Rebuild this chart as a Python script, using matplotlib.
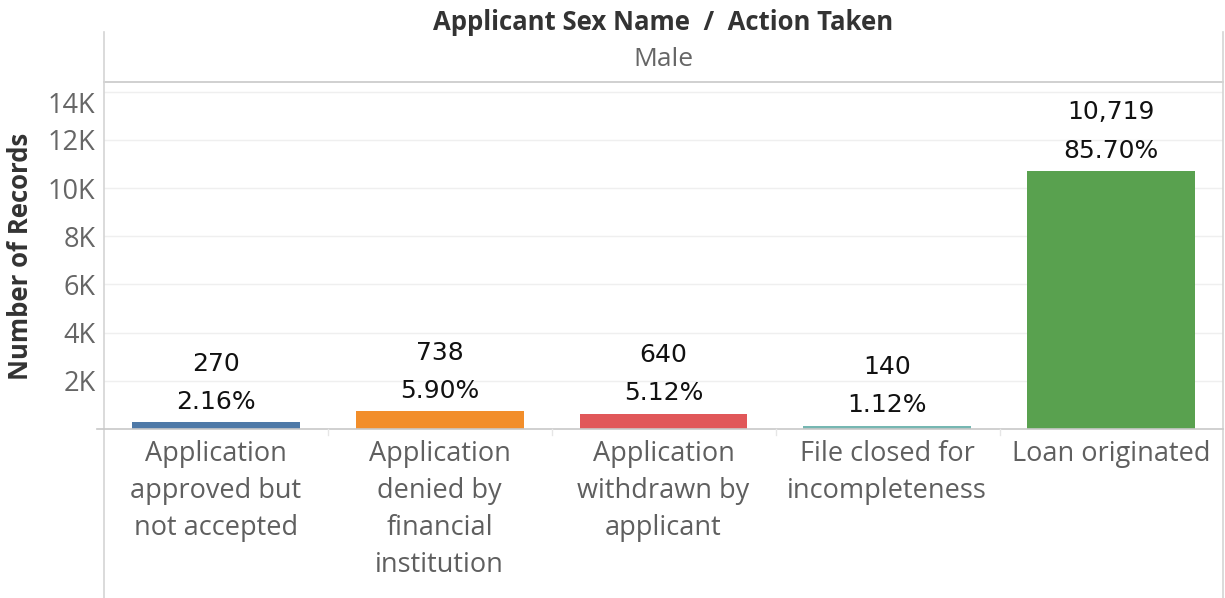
import matplotlib
matplotlib.use("Agg")
import matplotlib.pyplot as plt
from matplotlib.lines import Line2D

categories = [
    "Application\napproved but\nnot accepted",
    "Application\ndenied by\nfinancial\ninstitution",
    "Application\nwithdrawn by\napplicant",
    "File closed for\nincompleteness",
    "Loan originated",
]
counts = [270, 738, 640, 140, 10719]
percents = [2.16, 5.90, 5.12, 1.12, 85.70]
colors = ["#4e79a7", "#f28e2b", "#e15759", "#76b7b2", "#59a14f"]
yticks = [2000, 4000, 6000, 8000, 10000, 12000, 14000]
ytick_labels = ["2K", "4K", "6K", "8K", "10K", "12K", "14K"]

W, H = 1225, 598
fig = plt.figure(figsize=(W / 100, H / 100), dpi=100)
fig.patch.set_facecolor("white")

def fx(px):
    return px / W

def fy(py):
    return 1 - py / H

FONT = "Open Sans"

ax = fig.add_axes([fx(104), fy(429), fx(1223) - fx(104), fy(82) - fy(429)])
x = list(range(len(categories)))
ax.bar(x, counts, width=0.75, color=colors, zorder=3)
ax.set_xlim(-0.5, len(categories) - 0.5)
ax.set_ylim(0, 14400)

ax.set_yticks(yticks)
ax.set_yticklabels(ytick_labels, fontfamily=FONT, fontsize=19.5, color="#666666")
for lab in ax.get_yticklabels():
    lab.set_va("top" if lab.get_text() == "14K" else "center_baseline")
ax.tick_params(axis="y", length=0, pad=6)
ax.yaxis.grid(True, color="#efefef", linewidth=1, zorder=0)

ax.set_xticks(x)
ax.set_xticklabels(categories, fontfamily=FONT, fontsize=19.5, color="#5f5f5f",
                   linespacing=1.42, va="top")
ax.tick_params(axis="x", length=0, pad=8)

for s in ["left", "right", "bottom"]:
    ax.spines[s].set_visible(False)
ax.spines["top"].set_color("#c8c8c8")
ax.spines["top"].set_linewidth(1.2)

for i, (c, p) in enumerate(zip(counts, percents)):
    ax.annotate(f"{p:.2f}%", (i, c), xytext=(0, 14.5), textcoords="offset points",
                ha="center", va="center", fontsize=18, color="#111111",
                fontfamily="DejaVu Sans")
    ax.annotate(f"{c:,}", (i, c), xytext=(0, 42), textcoords="offset points",
                ha="center", va="center", fontsize=18, color="#111111",
                fontfamily="DejaVu Sans")

# frame lines
fig.add_artist(Line2D([fx(104), fx(104)], [fy(32), fy(598)], color="#d4d4d4", lw=1.2))
fig.add_artist(Line2D([fx(1223), fx(1223)], [fy(32), fy(598)], color="#d4d4d4", lw=1.2))
fig.add_artist(Line2D([fx(97), fx(1223)], [fy(429), fy(429)], color="#c8c8c8", lw=1.2))
for b in [328, 552, 776, 1000]:
    fig.add_artist(Line2D([fx(b), fx(b)], [fy(429), fy(435)], color="#e6e6e6", lw=1))

fig.text(fx(663), fy(23), "Applicant Sex Name  /  Action Taken", ha="center", va="center",
         fontfamily=FONT, fontweight="bold", fontsize=18.5, color="#333333")
fig.text(fx(663), fy(59), "Male", ha="center", va="center",
         fontfamily=FONT, fontsize=19, color="#666666")
fig.text(fx(21), fy(256), "Number of Records", ha="center", va="center", rotation=90,
         fontfamily=FONT, fontweight="bold", fontsize=18.5, color="#333333")

fig.savefig("out.png", dpi=100, facecolor="white")
